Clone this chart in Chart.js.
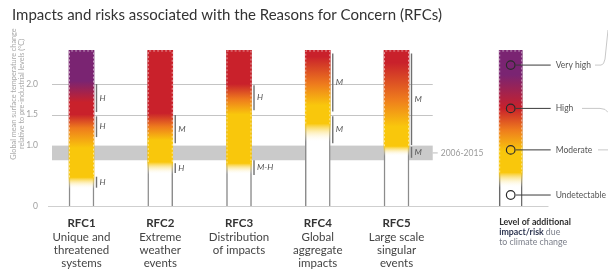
<!DOCTYPE html>
<html>
<head>
<meta charset="utf-8">
<script src="https://cdn.jsdelivr.net/npm/chart.js@4.4.1/dist/chart.umd.min.js"></script>
<style>
  html, body { margin: 0; padding: 0; background: #fff; }
  #wrap { width: 608px; height: 271px; position: relative; }
</style>
</head>
<body>
<div id="wrap"><canvas id="rfcChart"></canvas></div>
<script>
// --- data ---
var rfcCodes = ['RFC1', 'RFC2', 'RFC3', 'RFC4', 'RFC5'];
var rfcNames = [
    ['Unique and', 'threatened', 'systems'],
    ['Extreme', 'weather', 'events'],
    ['Distribution', 'of impacts'],
    ['Global', 'aggregate', 'impacts'],
    ['Large scale', 'singular', 'events']
];
var rfcPos = [1, 2, 3, 4, 5];
var emberTop = [2.55, 2.55, 2.55, 2.55, 2.55];

// colour transitions of each ember: [temperature, level]
var emberStops = [
    [[0.28, 'W'], [0.47, 'Y'], [0.95, 'Y'], [1.28, 'O'], [1.5, 'R'], [1.7, 'R'], [2.05, 'P'], [2.55, 'P']],
    [[0.52, 'W'], [0.72, 'Y'], [1.08, 'Y'], [1.3, 'O'], [1.52, 'R'], [2.55, 'R']],
    [[0.52, 'W'], [0.7, 'Y'], [1.5, 'Y'], [1.75, 'O'], [2.0, 'R'], [2.55, 'R']],
    [[1.05, 'W'], [1.35, 'Y'], [1.65, 'Y'], [2.0, 'O'], [2.45, 'R'], [2.55, 'R']],
    [[0.82, 'W'], [0.98, 'Y'], [1.3, 'Y'], [1.75, 'O'], [2.35, 'R'], [2.55, 'R']]
];

// confidence brackets
var confLow = [[1.54, 1.13, 0.3], [1.03, 0.54], [1.57, 0.51], [1.55, 1.03], [1.0, 0.79]];
var confHigh = [[2.0, 1.47, 0.48], [1.49, 0.7], [1.98, 0.75], [2.5, 1.47], [2.5, 0.97]];
var confText = [['H', 'H', 'H'], ['M', 'H'], ['H', 'M-H'], ['M', 'M'], ['M', 'M']];

// legend ember
var legendX = 6.45;
var legendTop = 2.55;
var legendStops = [[0.3, 'W'], [0.55, 'Y'], [0.9, 'Y'], [1.25, 'O'], [1.6, 'R'], [2.15, 'P'], [2.55, 'P']];
var riskLevels = ['Very high', 'High', 'Moderate', 'Undetectable'];
var riskLevelValue = [2.31, 1.6, 0.92, 0.18];

var tempTicks = [0, 1.0, 1.5, 2.0];
var gridTemps = [1.5, 2.0];
var obsBand = [0.75, 0.99];
var obsLabel = '2006-2015';

var palette = {
    W: 'rgba(255,255,255,0)',
    Y: '#f9c70c',
    O: '#ee7b1d',
    R: '#c9212b',
    P: '#7a2472'
};
var yMax = 2.6;
var fontFam = 'Lato, "Open Sans", sans-serif';

function makeGradient(chart, stops) {
    var y = chart.scales.y;
    if (!chart.chartArea || !y) return '#fff';
    var g = chart.ctx.createLinearGradient(0, y.getPixelForValue(0), 0, y.getPixelForValue(yMax));
    stops.forEach(function (s) { g.addColorStop(s[0] / yMax, palette[s[1]]); });
    return g;
}

// band, grid lines and baseline under the embers
var backdrop = {
    id: 'backdrop',
    beforeDatasetsDraw: function (chart) {
        var c = chart.ctx, x = chart.scales.x, y = chart.scales.y;
        var x0 = chart.chartArea.left, x1 = x.getPixelForValue(5.46);
        c.save();
        var yb1 = y.getPixelForValue(obsBand[1]), yb0 = y.getPixelForValue(obsBand[0]);
        c.fillStyle = '#cacaca';
        c.fillRect(x0, yb1, x1 - x0, yb0 - yb1);
        c.strokeStyle = '#c4c4c4';
        c.lineWidth = 1;
        gridTemps.forEach(function (t) {
            var py = Math.round(y.getPixelForValue(t)) + 0.5;
            c.beginPath(); c.moveTo(x0, py); c.lineTo(x1, py); c.stroke();
        });
        var pz = Math.round(y.getPixelForValue(0)) + 0.5;
        c.strokeStyle = '#cfcfcf';
        c.beginPath(); c.moveTo(x0 - 4, pz); c.lineTo(x.getPixelForValue(6.93), pz); c.stroke();
        // band label
        var ym = (yb0 + yb1) / 2;
        c.strokeStyle = '#bbb';
        c.beginPath(); c.moveTo(x1, ym); c.lineTo(x1 + 5, ym); c.stroke();
        c.fillStyle = '#9a9a9a';
        c.font = '8.5px ' + fontFam;
        c.textBaseline = 'middle';
        c.fillText(obsLabel, x1 + 8, ym);
        // y axis title
        c.translate(14, 94);
        c.rotate(-Math.PI / 2);
        c.textAlign = 'center';
        c.fillStyle = '#a8a8a8';
        c.font = '7.3px ' + fontFam;
        c.fillText('Global mean surface temperature change', 0, 0);
        c.fillText('relative to pre-industrial levels (\u00b0C)', 0, 8);
        c.restore();
    }
};

// dotted ember edges, confidence brackets, category and legend labels
var annotate = {
    id: 'annotate',
    afterDatasetsDraw: function (chart) {
        var c = chart.ctx, x = chart.scales.x, y = chart.scales.y;
        c.save();
        // dotted outline on coloured part of embers
        var embers = chart.getDatasetMeta(1).data.concat(chart.getDatasetMeta(3).data);
        var allStops = emberStops.concat([legendStops]);
        embers.forEach(function (bar, i) {
            var p = bar.getProps(['x', 'y', 'width'], true);
            var l = p.x - p.width / 2 + 0.5, r = p.x + p.width / 2 - 0.5;
            var yb = y.getPixelForValue(allStops[i][1][0]);
            c.strokeStyle = 'rgba(255,255,255,0.55)';
            c.lineWidth = 1;
            c.setLineDash([2, 2]);
            c.beginPath();
            c.moveTo(l, yb); c.lineTo(l, p.y + 0.5); c.lineTo(r, p.y + 0.5); c.lineTo(r, yb);
            c.stroke();
        });
        c.setLineDash([]);
        // confidence
        c.font = 'italic 8.5px ' + fontFam;
        c.textBaseline = 'middle';
        c.textAlign = 'left';
        rfcPos.forEach(function (pos, i) {
            var px = x.getPixelForValue(pos) + 15;
            confLow[i].forEach(function (lo, k) {
                var ya = y.getPixelForValue(lo), yb = y.getPixelForValue(confHigh[i][k]);
                c.strokeStyle = '#707070';
                c.lineWidth = 1.4;
                c.beginPath(); c.moveTo(px, ya); c.lineTo(px, yb); c.stroke();
                c.fillStyle = '#555';
                c.fillText(confText[i][k], px + 3, (ya + yb) / 2);
            });
        });
        // category labels under each ember
        var yb0 = chart.chartArea.bottom;
        c.textAlign = 'center';
        rfcPos.forEach(function (pos, i) {
            var px = x.getPixelForValue(pos);
            c.font = 'bold 11.5px ' + fontFam;
            c.fillStyle = '#333';
            c.fillText(rfcCodes[i], px, yb0 + 17);
            c.font = '11.5px ' + fontFam;
            c.fillStyle = '#444';
            rfcNames[i].forEach(function (line, k) {
                c.fillText(line, px, yb0 + 31 + k * 13.3);
            });
        });
        c.textAlign = 'left';
        // legend levels
        var lx = x.getPixelForValue(legendX);
        c.font = '8.5px ' + fontFam;
        riskLevels.forEach(function (name, k) {
            var py = y.getPixelForValue(riskLevelValue[k]);
            c.strokeStyle = '#3a3a3a';
            c.lineWidth = 1;
            c.beginPath(); c.moveTo(lx + 5, py); c.lineTo(lx + 40, py); c.stroke();
            c.fillStyle = '#555';
            c.fillText(name, lx + 45, py);
        });
        // connectors running off to the right
        c.strokeStyle = '#c8c8c8';
        var pv = y.getPixelForValue(riskLevelValue[0]);
        c.beginPath(); c.moveTo(595, pv); c.lineTo(601, pv); c.quadraticCurveTo(604, pv, 605, pv - 6); c.lineTo(608, 30); c.stroke();
        var ph = y.getPixelForValue(riskLevelValue[1]);
        c.beginPath(); c.moveTo(582, ph); c.lineTo(600, ph); c.quadraticCurveTo(606, ph, 608, ph + 4); c.stroke();
        var pm = y.getPixelForValue(riskLevelValue[2]);
        c.beginPath(); c.moveTo(598, pm); c.lineTo(608, pm); c.stroke();
        // legend caption
        var cx = lx - 11.5;
        c.font = 'bold 8.8px ' + fontFam;
        c.fillStyle = '#2e2e2e';
        c.fillText('Level of additional', cx, 222);
        c.fillStyle = '#2f3752';
        c.fillText('impact/risk', cx, 232);
        var w = c.measureText('impact/risk ').width;
        c.font = '8.8px ' + fontFam;
        c.fillStyle = '#7b7f8a';
        c.fillText('due', cx + w, 232);
        c.fillText('to climate change', cx, 242);
        c.restore();
    }
};

var ctx = document.getElementById('rfcChart').getContext('2d');

new Chart(ctx, {
    type: 'bar',
    data: {
        datasets: [
            {
                // white body + grey side lines
                data: rfcPos.map(function (p, i) { return { x: p, y: [0, emberTop[i]] }; }),
                backgroundColor: '#fff',
                borderColor: '#8c8c8c',
                borderWidth: { left: 1.5, right: 1.5, top: 0, bottom: 0 },
                barThickness: 25,
                grouped: false,
                order: 3
            },
            {
                data: rfcPos.map(function (p, i) { return { x: p, y: [0, emberTop[i]] }; }),
                backgroundColor: function (c) {
                    if (c.dataIndex === undefined) return '#fff';
                    return makeGradient(c.chart, emberStops[c.dataIndex]);
                },
                borderWidth: 0,
                barThickness: 25,
                grouped: false,
                order: 2
            },
            {
                data: [{ x: legendX, y: [0, legendTop] }],
                backgroundColor: '#fff',
                borderColor: '#6a6a6a',
                borderWidth: { left: 1.5, right: 1.5, top: 0, bottom: 0 },
                barThickness: 23,
                grouped: false,
                order: 3
            },
            {
                data: [{ x: legendX, y: [0, legendTop] }],
                backgroundColor: function (c) { return makeGradient(c.chart, legendStops); },
                borderWidth: 0,
                barThickness: 23,
                grouped: false,
                order: 2
            },
            {
                type: 'scatter',
                data: riskLevelValue.map(function (v) { return { x: legendX, y: v }; }),
                pointRadius: 4.3,
                pointBorderWidth: 1.2,
                pointBorderColor: '#2b2b2b',
                pointBackgroundColor: ['rgba(0,0,0,0)', 'rgba(0,0,0,0)', 'rgba(0,0,0,0)', '#fff'],
                order: 1
            }
        ]
    },
    options: {
        responsive: true,
        maintainAspectRatio: false,
        animation: false,
        layout: { padding: { left: 12, right: 8, top: 0, bottom: 0 } },
        plugins: {
            legend: { display: false },
            tooltip: { enabled: false },
            title: {
                display: true,
                text: 'Impacts and risks associated with the Reasons for Concern (RFCs)',
                align: 'start',
                color: '#333',
                font: { family: fontFam, size: 15, weight: 'normal' },
                padding: { top: 6, bottom: 23.4 }
            }
        },
        scales: {
            y: {
                min: 0,
                max: yMax,
                afterBuildTicks: function (s) { s.ticks = tempTicks.map(function (v) { return { value: v }; }); },
                afterFit: function (s) { s.width = 40; },
                grid: { display: false },
                border: { display: false },
                ticks: {
                    padding: 6,
                    color: '#a0a0a0',
                    font: { family: fontFam, size: 8.5 },
                    callback: function (v) { return v === 0 ? '0' : v.toFixed(1); }
                }
            },
            x: {
                type: 'linear',
                offset: false,
                min: 0.6254,
                max: 7.584,
                afterFit: function (s) { s.height = 65; },
                grid: { display: false },
                border: { display: false },
                ticks: { display: false }
            }
        }
    },
    plugins: [backdrop, annotate]
});
</script>
</body>
</html>
